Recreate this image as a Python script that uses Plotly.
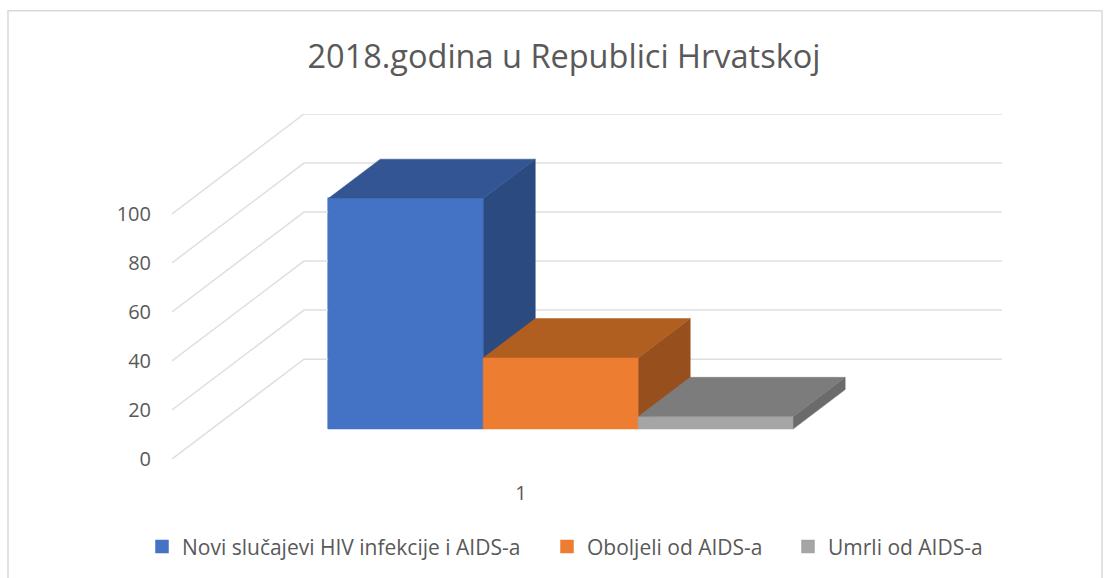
import plotly.graph_objects as go

# Data
categories = ["1"]
series_names = ["Novi slučajevi HIV infekcije i AIDS-a", "Oboljeli od AIDS-a", "Umrli od AIDS-a"]
series_values = [94, 29, 5]
front_colors = ["#4472C4", "#ED7D31", "#A5A5A5"]
top_colors = ["#345593", "#B15E21", "#7C7C7C"]
side_colors = ["#2A4A80", "#97501D", "#6B6B6B"]
y_ticks = [0, 20, 40, 60, 80, 100]
title_text = "2018.godina u Republici Hrvatskoj"

# Oblique 3-D projection of the chart box, expressed in axis units
W, H = 1109, 578
L, R, B, T = 172, 1002, 459, 113.5
X_PX, Y_PX = 698.0, 2.455       # px per category, px per value
DEPTH_DX, DEPTH_DY = 132.0, 100.0
BAR_D0, BAR_D1 = 0.30, 0.695
BAR_W = 0.222
GRID = "#DFDFDF"
TEXT = "#595959"
FONT = "Open Sans"


def proj(x, v, d):
    return x + d * DEPTH_DX / X_PX, v + d * DEPTH_DY / Y_PX


def poly(points, color):
    xs, ys = zip(*[proj(*p) for p in points])
    return go.Scatter(x=list(xs) + [xs[0]], y=list(ys) + [ys[0]], mode="lines", fill="toself",
                      fillcolor=color, line=dict(color=color, width=0.5),
                      showlegend=False, hoverinfo="skip")


def paper_y(py):
    return (B - py) / (B - T)


def paper_x(px):
    return (px - L) / (R - L)


fig = go.Figure()

# Wall and floor gridlines
for t in y_ticks:
    pts = [proj(0, t, 0), proj(0, t, 1), proj((R - L - DEPTH_DX) / X_PX, t, 1)]
    fig.add_trace(go.Scatter(x=[p[0] for p in pts], y=[p[1] for p in pts], mode="lines",
                             line=dict(color=GRID, width=1.5), showlegend=False, hoverinfo="skip"))

n = len(series_values)
x0 = 0.5 - n * BAR_W / 2
legends = ["legend", "legend2", "legend3"]

# Front faces as real bars (these carry the legend)
for i, (name, val) in enumerate(zip(series_names, series_values)):
    xc = x0 + (i + 0.5) * BAR_W
    cx, base = proj(xc, 0, BAR_D0)
    fig.add_trace(go.Bar(x=[cx], y=[val], base=[base], width=[BAR_W - 2 / X_PX], name=name,
                         marker=dict(color=front_colors[i], line=dict(width=1.5, color=front_colors[i])),
                         legend=legends[i], hoverinfo="skip"))

# Depth faces, back to front from the left
for i, val in enumerate(series_values):
    a = x0 + i * BAR_W
    b = a + BAR_W
    fig.add_trace(poly([(b, 0, BAR_D0), (b, 0, BAR_D1), (b, val, BAR_D1), (b, val, BAR_D0)], side_colors[i]))
    fig.add_trace(poly([(a, val, BAR_D0), (a, val, BAR_D1), (b, val, BAR_D1), (b, val, BAR_D0)], top_colors[i]))
    fig.add_trace(poly([(a, 0, BAR_D0), (b, 0, BAR_D0), (b, val, BAR_D0), (a, val, BAR_D0)], front_colors[i]))


def leg(px):
    return dict(x=paper_x(px), y=paper_y(547), xanchor="left", yanchor="middle", orientation="h",
                font=dict(family=FONT, size=21, color=TEXT),
                bgcolor="rgba(0,0,0,0)", indentation=-8, tracegroupgap=0)


fig.update_layout(
    width=W, height=H, autosize=False,
    margin=dict(l=L, r=W - R, t=T, b=H - B, autoexpand=False),
    paper_bgcolor="white", plot_bgcolor="white",
    barmode="overlay", bargap=0,
    title=dict(text=title_text, x=564 / W, xanchor="center", y=1 - 57 / H, yanchor="middle",
               font=dict(family=FONT, size=32.5, color=TEXT)),
    xaxis=dict(range=[0, (R - L) / X_PX], tickmode="array", tickvals=[0.5], ticktext=categories,
               showgrid=False, zeroline=False, showline=False, ticks="", ticklabelstandoff=20,
               tickfont=dict(family=FONT, size=20, color=TEXT)),
    yaxis=dict(range=[0, (B - T) / Y_PX], tickmode="array", tickvals=y_ticks,
               showgrid=False, zeroline=False, showline=False, ticks="", ticklabelstandoff=20,
               tickfont=dict(family=FONT, size=20, color=TEXT)),
    legend=leg(150), legend2=leg(555), legend3=leg(796),
    shapes=[dict(type="rect", xref="paper", yref="paper",
                 x0=paper_x(8), x1=paper_x(1102), y0=paper_y(600), y1=paper_y(10),
                 line=dict(color="#D9D9D9", width=1.5), fillcolor="rgba(0,0,0,0)", layer="below")],
)

fig.write_html("out.html", config={"displayModeBar": False},
               post_script="document.body.style.margin='0';")
